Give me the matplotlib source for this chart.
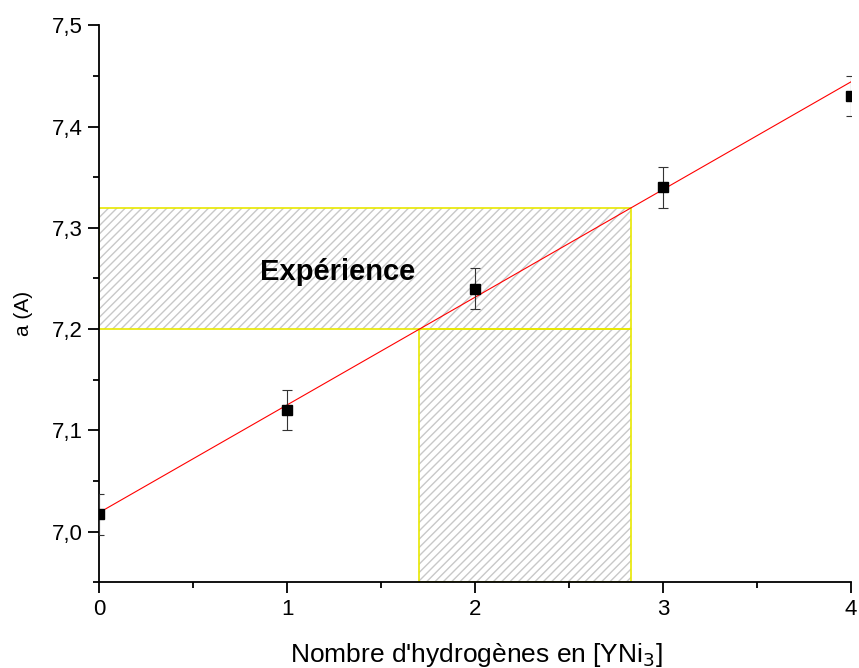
import numpy as np
import matplotlib
matplotlib.use("Agg")
import matplotlib.pyplot as plt
from matplotlib.patches import Rectangle
from matplotlib.ticker import FuncFormatter, MultipleLocator

plt.rcParams['font.family'] = ['Liberation Sans', 'DejaVu Sans']
plt.rcParams['hatch.linewidth'] = 1.0

# Measured lattice parameter vs hydrogen count
n_hydrogen = [0, 1, 2, 3, 4]
a_param = [7.017, 7.12, 7.24, 7.34, 7.43]
a_err = [0.02, 0.02, 0.02, 0.02, 0.02]

# Linear fit
fit_intercept = 7.019
fit_slope = 0.1063

# Experimental range of a
exp_low = 7.20
exp_high = 7.32

x_ticks = [0, 1, 2, 3, 4]
y_ticks = [7.0, 7.1, 7.2, 7.3, 7.4, 7.5]

fig = plt.figure(figsize=(8.59, 6.68), dpi=100)
ax = fig.add_axes([0.1158, 0.1283, 0.8749, 0.8338])

xmin, xmax = 0, 4
ymin, ymax = 6.95, 7.5

x_lo = (exp_low - fit_intercept) / fit_slope
x_hi = (exp_high - fit_intercept) / fit_slope

hatch_grey = '#c8c8c8'
edge_yellow = '#e8e800'

# Horizontal band (experimental a range)
ax.add_patch(Rectangle((xmin, exp_low), x_hi - xmin, exp_high - exp_low,
                       facecolor='white', edgecolor=hatch_grey, hatch='////',
                       linewidth=0, zorder=1))
ax.add_patch(Rectangle((xmin, exp_low), x_hi - xmin, exp_high - exp_low,
                       facecolor='none', edgecolor=edge_yellow, linewidth=1.2,
                       zorder=2))
# Vertical band (corresponding hydrogen range)
ax.add_patch(Rectangle((x_lo, ymin), x_hi - x_lo, exp_low - ymin,
                       facecolor='white', edgecolor=hatch_grey, hatch='////',
                       linewidth=0, zorder=1))
ax.add_patch(Rectangle((x_lo, ymin), x_hi - x_lo, exp_low - ymin,
                       facecolor='none', edgecolor=edge_yellow, linewidth=1.2,
                       zorder=2))

# Fit line
xf = np.array([xmin, xmax])
ax.plot(xf, fit_intercept + fit_slope * xf, color='red', linewidth=0.8, zorder=3)

# Data with error bars
ax.errorbar(n_hydrogen, a_param, yerr=a_err, fmt='s', color='black',
            markersize=7, ecolor='#333333', elinewidth=0.8, capsize=3.6,
            capthick=0.8, zorder=4)

ax.text(0.855, 7.2565, 'Expérience', fontsize=21, fontweight='bold',
        va='center', ha='left', zorder=5)

ax.set_xlim(xmin, xmax)
ax.set_ylim(ymin, ymax)
ax.set_xticks(x_ticks)
ax.set_yticks(y_ticks)
ax.xaxis.set_minor_locator(MultipleLocator(0.5))
ax.yaxis.set_minor_locator(MultipleLocator(0.05))
ax.yaxis.set_major_formatter(FuncFormatter(lambda v, p: f'{v:.1f}'.replace('.', ',')))
ax.xaxis.set_major_formatter(FuncFormatter(lambda v, p: f'{v:.0f}'))

for s in ['top', 'right']:
    ax.spines[s].set_visible(False)
for s in ['left', 'bottom']:
    ax.spines[s].set_linewidth(1.3)

ax.tick_params(which='major', direction='out', length=8, width=1.3,
               labelsize=16, pad=4)
ax.tick_params(which='minor', direction='out', length=4, width=1.3)

ax.set_xlabel("Nombre d'hydrogènes en [YNi$_3$]", fontsize=19)
ax.set_ylabel('a (A)', fontsize=15)
ax.xaxis.set_label_coords(0.501, -0.105)
ax.yaxis.set_label_coords(-0.089, 0.482)

fig.savefig('out.png', dpi=100)
